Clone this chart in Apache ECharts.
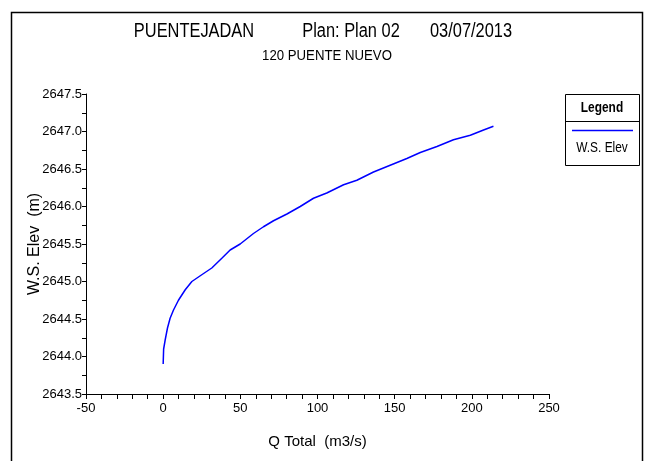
<!DOCTYPE html>
<html>
<head>
<meta charset="utf-8">
<script src="https://cdn.jsdelivr.net/npm/echarts@6/dist/echarts.min.js"></script>
<style>html,body{margin:0;padding:0;background:#fff}#c{width:648px;height:461px}</style>
</head>
<body>
<div id="c"></div>
<script>
var titleParts = ['PUENTEJADAN', 'Plan: Plan 02', '03/07/2013'];
var subTitle = '120 PUENTE NUEVO';
var xName = 'Q Total  (m3/s)';
var yName = 'W.S. Elev  (m)';
var seriesName = 'W.S. Elev';
var legendTitle = 'Legend';
var qTotal = [0, 0.3, 1.3, 2.8, 4.5, 6.7, 9.9, 14.3, 18.6, 25, 31.5, 38, 43.4, 49.9, 58.5, 65, 71.5, 80.2, 88.8, 97.4, 106, 116.9, 125.5, 136.3, 147.1, 157.9, 166.6, 177.4, 188.1, 199, 207.6, 214];
var wsElev = [2643.90, 2644.10, 2644.22, 2644.38, 2644.51, 2644.62, 2644.75, 2644.89, 2645.00, 2645.09, 2645.18, 2645.31, 2645.42, 2645.50, 2645.64, 2645.73, 2645.81, 2645.90, 2646.00, 2646.11, 2646.18, 2646.29, 2646.35, 2646.46, 2646.55, 2646.64, 2646.72, 2646.80, 2646.89, 2646.95, 2647.02, 2647.07];

var FONT = "'Liberation Sans', Arial, sans-serif";
var data = qTotal.map(function (q, i) { return [q, wsElev[i]]; });
function txt(x, y, text, size, sx, bold) {
  return { type: 'text', x: x, y: y, scaleX: sx, originX: 0, originY: 0,
    style: { text: text, fontFamily: FONT, fontSize: size, fontWeight: bold ? 'bold' : 'normal',
      fill: '#000', textAlign: 'center', textVerticalAlign: 'middle' } };
}
var chart = echarts.init(document.getElementById('c'));
chart.setOption({
  animation: false,
  backgroundColor: '#fff',
  grid: { left: 86, right: 99, top: 94, bottom: 67 },
  xAxis: {
    type: 'value', min: -50, max: 250, interval: 50,
    name: xName, nameLocation: 'middle', nameGap: 40, nameMoveOverlap: false,
    nameTextStyle: { fontFamily: FONT, fontSize: 15, color: '#000' },
    axisLine: { show: true, onZero: false, lineStyle: { color: '#000', width: 1 } },
    axisTick: { show: true, inside: false, length: 5, lineStyle: { color: '#000' } },
    minorTick: { show: true, splitNumber: 5, length: 5, lineStyle: { color: '#000' } },
    splitLine: { show: false },
    axisLabel: { fontFamily: FONT, fontSize: 13, color: '#000', margin: 8 }
  },
  yAxis: {
    type: 'value', min: 2643.5, max: 2647.5, interval: 0.5,
    name: yName, nameLocation: 'middle', nameGap: 43, nameMoveOverlap: false,
    nameTextStyle: { fontFamily: FONT, fontSize: 16, color: '#000' },
    axisLine: { show: true, onZero: false, lineStyle: { color: '#000', width: 1 } },
    axisTick: { show: true, inside: false, length: 4, lineStyle: { color: '#000' } },
    minorTick: { show: true, splitNumber: 2, length: 4, lineStyle: { color: '#000' } },
    splitLine: { show: false },
    axisLabel: { fontFamily: FONT, fontSize: 13, color: '#000', margin: 4,
      formatter: function (v) { return v.toFixed(1); } }
  },
  series: [{
    name: seriesName, type: 'line', data: data, showSymbol: false, smooth: false,
    lineStyle: { color: '#0000ff', width: 1.5 }, itemStyle: { color: '#0000ff' }
  }],
  graphic: [
    { type: 'rect', shape: { x: 11.5, y: 12.5, width: 631, height: 460 }, style: { fill: 'none', stroke: '#000', lineWidth: 1.5 } },
    txt(194, 31, titleParts[0], 20, 0.82),
    txt(351, 31, titleParts[1], 20, 0.82),
    txt(471, 31, titleParts[2], 20, 0.82),
    txt(327, 56, subTitle, 15, 0.88),
    { type: 'rect', shape: { x: 565.5, y: 94.5, width: 74, height: 71 }, style: { fill: '#fff', stroke: '#000', lineWidth: 1 } },
    { type: 'line', shape: { x1: 565.5, y1: 121.5, x2: 639.5, y2: 121.5 }, style: { stroke: '#000', lineWidth: 1 } },
    txt(602, 108, legendTitle, 14, 0.85, true),
    { type: 'line', shape: { x1: 572, y1: 130.5, x2: 633, y2: 130.5 }, style: { stroke: '#0000ff', lineWidth: 1.5 } },
    txt(602, 148, seriesName, 14, 0.85)
  ]
});
</script>
</body>
</html>
